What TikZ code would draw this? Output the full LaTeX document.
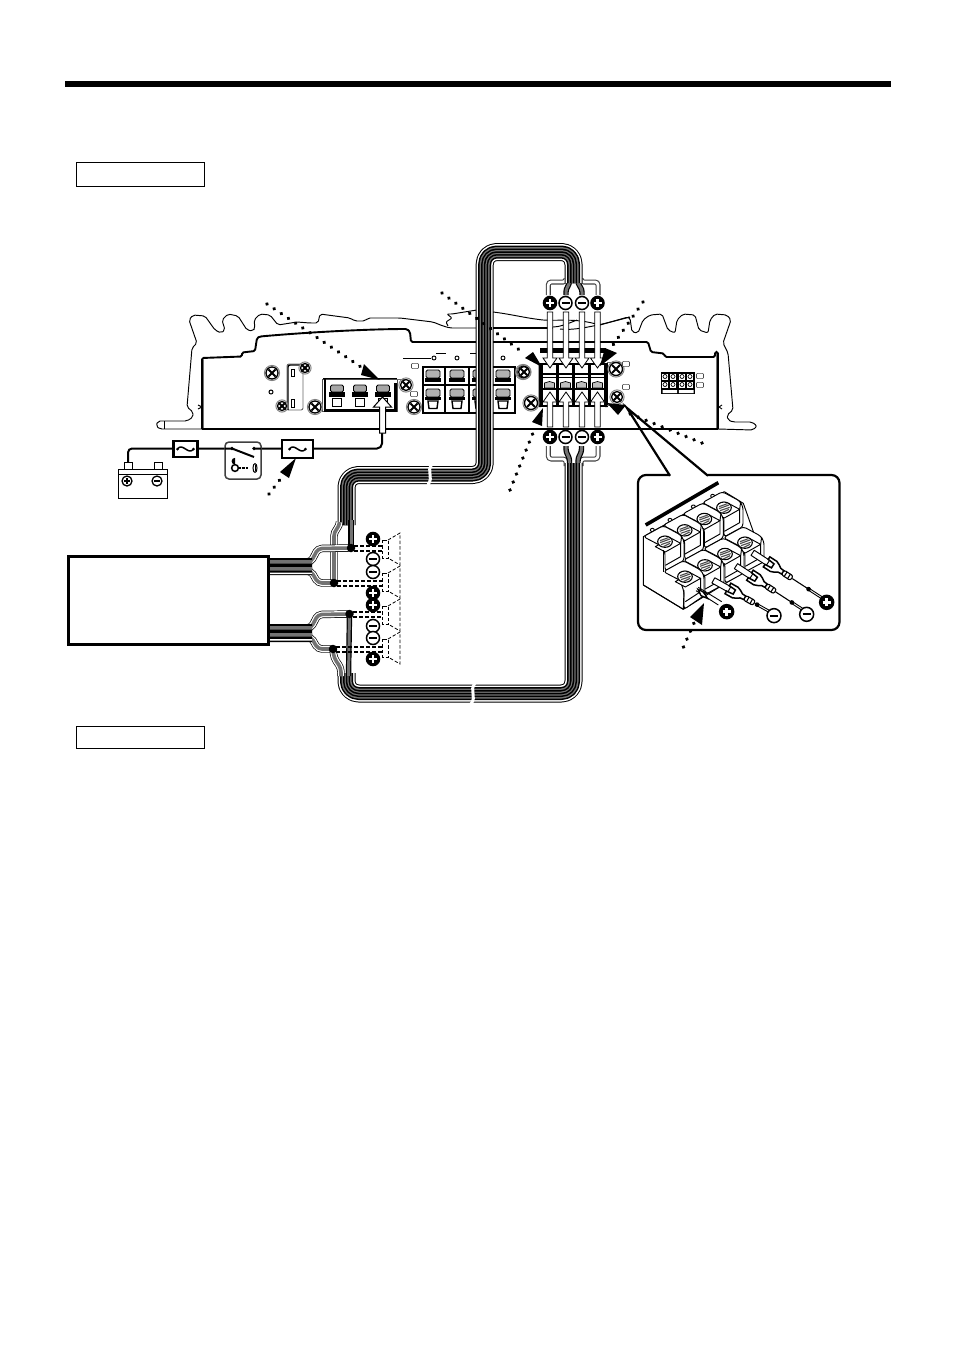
\documentclass[tikz,border=0pt]{standalone}
\usetikzlibrary{calc}
\definecolor{cgray}{gray}{0.45}
\tikzset{
  sgnbase/.style={circle,inner sep=0pt,minimum size=13pt,line width=1.5pt},
  emptybox/.style={draw,line width=1pt,fill=white,inner sep=0pt},
  thinline/.style={line width=.95pt,line join=round},
  dash1/.style={line width=1.4pt,dash pattern=on 4pt off 2pt},
  dash2/.style={line width=.8pt,dash pattern=on 3.4pt off 2pt},
  jdot/.style={circle,fill=black,inner sep=0pt,minimum size=8.5pt}
}
\newcommand\psgn[4][13]{\node[sgnbase,minimum size=#1pt,fill=black,draw=black] (#2) at (#3,#4) {};
  \draw[white,line width=2.6pt] (#2.center) ++(-4pt,0pt) -- ++(8pt,0pt) (#2.center) ++(0pt,-4pt) -- ++(0pt,8pt);}
\newcommand\msgn[4][13]{\node[sgnbase,minimum size=#1pt,fill=white,draw=black] (#2) at (#3,#4) {};
  \draw[black,line width=2.2pt] (#2.center) ++(-4pt,0pt) -- ++(8pt,0pt);}
\newcommand\scr[3]{\draw[line width=.9pt,black!50] (#1,#2) circle (#3+1.6);
  \draw[line width=1.3pt,fill=white] (#1,#2) circle (#3);
  \draw[line width=2pt] (#1,#2) ++(-#3*.6,-#3*.6) -- ++(#3*1.2,#3*1.2) (#1,#2) ++(-#3*.6,#3*.6) -- ++(#3*1.2,-#3*1.2);}
\newcommand\fuse[5]{\node[draw,line width=2.1pt,fill=white,minimum width=#4pt,minimum height=#5pt,inner sep=0pt] (#1) at (#2,#3) {};
  \draw[line width=1.5pt] (#2-8,#3) .. controls (#2-3,#3-7) and (#2+3,#3+7) .. (#2+8,#3);
  \fill (#2-8,#3) circle (1.5) (#2+8,#3) circle (1.5);}
\newcommand\warrowd[3]{\draw[line width=.8pt,fill=white,line join=miter] (#1-2.7,#2) -- (#1+2.7,#2) -- (#1+2.7,#3-10) -- (#1+7,#3-10) -- (#1,#3) -- (#1-7,#3-10) -- (#1-2.7,#3-10) -- cycle;}
\newcommand\warrowu[3]{\draw[line width=.8pt,fill=white,line join=miter] (#1-2.7,#2) -- (#1+2.7,#2) -- (#1+2.7,#3+10) -- (#1+7,#3+10) -- (#1,#3) -- (#1-7,#3+10) -- (#1-2.7,#3+10) -- cycle;}
\newcommand\pointer[9]{\draw[line width=3.9pt,line cap=round,dash pattern=on .01pt off 8.6pt] (#1,#2) -- (#3,#4);
  \fill (#5) -- (#6,#7) -- (#8,#9) -- cycle;}
\newcommand\bundle[1]{\foreach \w/\c in {18/black,16/white,13/black,10/cgray,7/black,4/cgray,1.5/black}{\draw[line width=\w pt,color=\c,rounded corners=12pt,line join=round] #1;}}
\newcommand\wirew[1]{\draw[line width=5pt,color=black!75,rounded corners=3pt] #1; \draw[line width=2.8pt,color=white,rounded corners=3pt] #1;}
\newcommand\wireg[1]{\draw[line width=5.4pt,color=black,rounded corners=3pt] #1; \draw[line width=3pt,color=cgray,rounded corners=3pt] #1;}
\newcommand\wirex[1]{\draw[line width=7.4pt,color=black,rounded corners=4pt] #1; \draw[line width=6pt,color=white,rounded corners=4pt] #1; \draw[line width=3.6pt,color=cgray,rounded corners=4pt] #1;}
\newcommand\ptermA[1]{\draw[line width=.8pt,fill=black!35,rounded corners=1.5pt] (#1-6.5,392) -- (#1-6.5,385) -- (#1+6.5,385) -- (#1+6.5,392) -- cycle;
  \fill (#1-8,392) rectangle (#1+8,396.5);
  \draw[line width=1pt,fill=white] (#1-4.2,398.5) rectangle (#1+4.2,406.5);}
\newcommand\stermA[1]{\draw[line width=.8pt,fill=black!30,rounded corners=1.5pt] (#1-7,378) -- (#1-7,370) -- (#1+7,370) -- (#1+7,378) -- cycle;
  \fill (#1-8,378) rectangle (#1+8,382);}
\newcommand\stermB[1]{\draw[line width=.8pt,fill=black!30,rounded corners=1.5pt] (#1-7,397) -- (#1-7,389) -- (#1+7,389) -- (#1+7,397) -- cycle;
  \fill (#1-8,397) rectangle (#1+8,400);
  \draw[line width=1.4pt,fill=white] (#1-5,401) -- (#1+5,401) -- (#1+4,408.5) -- (#1-4,408.5) -- cycle;}
\newcommand\rterm[1]{\fill[white] (#1-6.3,365) rectangle (#1+6.3,405);
  \fill (#1-6.3,372.5) rectangle (#1+6.3,374.5);
  \fill (#1-6.3,376.5) rectangle (#1+6.3,378);
  \draw[line width=.7pt,fill=black!25] (#1-5,388) -- (#1-5,383) -- (#1,381.5) -- (#1+5,383) -- (#1+5,388) -- cycle;
  \fill (#1-6.3,388) rectangle (#1+6.3,390);}
\newcommand\smallsq[2]{\draw[line width=.6pt,black!70,fill=white,rounded corners=.8pt] (#1-3.5,#2-2.6) rectangle (#1+3.5,#2+2.6);}
\newcommand\icell[2]{\begin{scope}[shift={(#1,#2)}]
  \draw[thinline,fill=white,rounded corners=3pt] (0,0) -- (60,-33) -- (112,-5) -- (122,12) -- (122,72) -- (65,103) -- (65,45) -- (50,26) -- cycle;
  \draw[thinline,fill=white] (36,30) -- (66,46) -- (112,20) -- (82,4) -- cycle;
  \draw[thinline] (115,-2) -- (112,20) (112,20) -- (112,60) -- (66,86);
  \draw[line width=1.1pt,fill=white] (65,15) ellipse (22 and 17);
  \draw[line width=1.1pt,black!70] (50,12) -- (75,3) (50,18) -- (80,7) (53,24) -- (82,14) (60,30) -- (80,20);
\end{scope}}
\newcommand\ispade[4]{\begin{scope}[shift={(#1,#2)},rotate=#3]
  \draw[line width=1.1pt] (62,0) -- (#4,0);
  \draw[line width=.9pt] (#4,-3) -- (#4+60,-3) (#4,3) -- (#4+60,3);
  \draw[thinline,fill=white] (-80,-9) -- (-25,-9) -- (-25,9) -- (-80,9) -- cycle;
  \draw[line width=1.5pt,fill=white] (-30,-18) -- (-5,-18) .. controls (5,-18) and (8,-9) .. (16,-7) -- (28,-6) -- (28,6) -- (16,7) .. controls (8,9) and (5,18) .. (-5,18) -- (-30,18) -- (-30,9) -- (-8,7) -- (-8,-7) -- (-30,-9) -- cycle;
  \draw[line width=1.1pt,fill=white,rounded corners=2pt] (28,-8) rectangle (60,8);
  \draw[line width=1.1pt] (38,-8) -- (38,8) (50,-8) -- (50,8);
  \fill (#4,0) circle (7);
\end{scope}}
\begin{document}
\begin{tikzpicture}[x=1pt,y=-1pt,line cap=butt]
\useasboundingbox (0,0) rectangle (954,1355);
\fill[white] (0,0) rectangle (954,1355);
% rule and boxes
\coordinate (ruleL) at (65,84); \coordinate (ruleR) at (891,84);
\draw[line width=6pt] (ruleL) -- (ruleR);
\node[emptybox,minimum width=128pt,minimum height=24pt] (box1) at (140,174) {};
\node[emptybox,minimum width=128pt,minimum height=22pt] (box2) at (140,737) {};

% amplifier outline
\draw[thinline,rounded corners=2pt] (202,429) -- (160,429) -- (156,426) -- (158,421) -- (187,421) -- (193,417) -- (193,412) -- (187,407) -- (192,348) -- (197,343) -- (189,320) -- (193,315) -- (205,316) -- (215,330) -- (221,333) -- (225,330) -- (222,320) -- (228,314) -- (238,316) -- (247,330) -- (253,331) -- (255,328) -- (254,320) -- (260,314) -- (270,315) -- (278,325) -- (297,322) -- (310,323) -- (318,323) -- (320,314) -- (350,318) -- (355,321) -- (365,321) -- (368,318) -- (400,318) -- (433,322) -- (443,326) -- (450,328) -- (477,328);
\draw[thinline] (164,421) -- (164,429);
\draw[thinline,rounded corners=1pt] (477,310) -- (452,314) -- (447,314) -- (452,318) -- (446,322) -- (448,326);
\draw[thinline] (493,312) .. controls (510,314) and (525,318) .. (543,320) .. controls (565,321) and (575,318) .. (600,325) (577,320) .. controls (565,325) and (558,327) .. (553,327) (560,329) .. controls (575,331) and (600,325) .. (630,317);
\draw[thinline,rounded corners=2pt] (600,325) -- (628,317) -- (630,318) -- (632,332) -- (638,333) -- (643,320) -- (650,315) -- (662,314) -- (668,330) -- (675,333) -- (677,320) -- (683,314) -- (695,315) -- (699,330) -- (708,333) -- (710,320) -- (715,314) -- (727,315) -- (731,320) -- (723,343) -- (728,353) -- (733,410) -- (727,415) -- (728,420) -- (733,422) -- (752,422) -- (757,426) -- (753,430) -- (718,429);
\draw[line width=1.1pt] (202,429) -- (718,429);
% panel
\draw[line width=1.9pt,rounded corners=1.5pt] (202,429) -- (202,358) -- (242,356.5) -- (242,352.5) -- (255,351) -- (257,338) -- (260,336.5) .. controls (310,332) and (370,329) .. (407,329) -- (410,332) -- (411,342) -- (648,342) -- (651,352) -- (664,353.5) -- (665,357) -- (715,357) -- (715,352) -- (718,352) -- (718,429);
\draw[line width=1pt,black!55] (203.5,360) -- (203.5,428) (716.6,354) -- (716.6,428);
\draw[thinline] (198,405) -- (202,407) -- (198,409);
\draw[thinline] (722,405) -- (719,407) -- (722,409);
\draw[line width=1.8pt] (477,328) -- (553,328);
\draw[line width=5pt] (540,350) -- (606,350);

% left bracket
\draw[line width=.9pt,black!60,fill=white,rounded corners=2pt] (287,364) -- (303,364) -- (303,410) -- (287,410) -- cycle;
\draw[line width=1.4pt,rounded corners=2pt] (288,410) -- (288,365) -- (300,365);
\draw[line width=1pt,fill=white] (291,369) -- (294,369) -- (294,376) -- (291,376) -- cycle (291,399) -- (294,399) -- (294,407) -- (291,407) -- cycle;
\scr{272}{373}{6}\scr{305}{368}{4.5}\scr{282}{406}{4.5}
\draw[line width=1pt] (271,392) circle (2);

% power terminal block
\draw[line width=.9pt,black!70,fill=white] (322,379) rectangle (397,411);
\draw[line width=.9pt,black!60] (397,379) -- (406,379);
\draw[line width=2pt] (325,379) -- (325,410);
\draw[line width=3pt] (323.5,410) -- (396.5,410);
\draw[line width=3pt] (395,383) -- (395,411);
\draw[line width=1pt] (323,378.6) -- (397,378.6);
\ptermA{337}\ptermA{360}\ptermA{383}
\scr{315}{407}{6}\scr{406}{385}{5.5}
\smallsq{415}{366}\smallsq{414}{394}

% speaker terminal block
\draw[line width=2.6pt,fill=white] (423,367) rectangle (515,413);
\draw[line width=2pt] (423,385) -- (515,385);
\stermA{433}\stermA{457}\stermA{480}\stermA{503}
\stermB{433}\stermB{457}\stermB{480}\stermB{503}
\draw[line width=1.4pt] (445,367) -- (445,413) (469,367) -- (469,413) (491,367) -- (491,413);
\scr{523}{372}{6}\scr{414}{407}{6}
\draw[thinline] (403,358) -- (431,358) (436,353) -- (446,353) (470,353) -- (477,353);
\draw[line width=.9pt] (434,358) circle (2) (457,358) circle (2) (503,358) circle (2);

% right terminal block
\fill (538.5,363) rectangle (607.5,407);
\rterm{549.5}\rterm{565.5}\rterm{581.5}\rterm{597.5}
\fill (538.5,363) rectangle (541,407) (605,363) rectangle (607.5,407);
\draw[line width=.8pt,black!60] (607,362) -- (621,362) (607,405) -- (612,405);
\scr{616}{369}{6.5}\scr{617}{397}{5.5}\scr{531}{403}{6.5}\scr{524}{372}{5.5}
\smallsq{626}{364}\smallsq{626}{387}

% connector
\fill (661,372) rectangle (695,394);
\foreach \cx in {665,673,682,690}{\foreach \cy in {376.5,384.5}{
  \draw[line width=.5pt,fill=white] (\cx-3.5,\cy-3.5) rectangle (\cx+3.5,\cy+3.5);
  \draw[line width=.7pt] (\cx,\cy) circle (2);}}
\draw[fill=white,draw=none] (662.5,390) rectangle (677.2,393) (678.8,390) rectangle (693.5,393);
\smallsq{700}{376}\smallsq{700}{385}

% battery circuit
\coordinate (swIn) at (232,448.5); \coordinate (swOut) at (254,448.5);
\draw[line width=2pt,rounded corners=4pt] (128,462) -- (128,448.5) -- (225,448.5);
\draw[line width=2pt,rounded corners=5pt] (261,448.5) -- (382,448.5) -- (382,433);
\fuse{fuse1}{185.5}{449}{24}{16}
\fuse{fuse2}{297.5}{449}{31}{18}
\node[draw=black!75,line width=1.5pt,fill=white,rounded corners=4pt,minimum width=36pt,minimum height=37pt,inner sep=0pt] (switch) at (243,460.5) {};
\draw[line width=2pt] (225,448.5) -- (swIn) -- (254,457) (swOut) -- (261,448.5);
\fill (swIn) circle (1.9) (swOut) circle (1.9);
\draw[line width=1.5pt,fill=white] (235,468) circle (3.4);
\fill (235,464.6) arc (-90:90:-3.4) -- cycle;
\draw[line width=1.8pt,dash pattern=on 3pt off .8pt] (238,468) -- (248,468);
\draw[line width=1pt] (255,468) ellipse (2 and 4.5);
\draw[line width=1pt] (255,465) -- (255,471);
% battery
\draw[line width=1pt,fill=white] (118,469) rectangle (167,498);
\draw[line width=1pt] (118,474) -- (167,474);
\draw[line width=1pt,fill=white] (124,462) rectangle (132,469);
\draw[line width=1pt,fill=white] (154,462) rectangle (162,469);
\draw[line width=1.3pt] (127,481) circle (5) (157,481) circle (5);
\draw[line width=1.6pt] (124,481) -- (130,481) (127,478) -- (127,484) (154,481) -- (160,481);
\draw[line width=1pt,fill=white,line join=miter] (379.5,433) -- (385.5,433) -- (385.5,407) -- (391.5,407) -- (382.5,397) -- (373.5,407) -- (379.5,407) -- cycle;

% white arrows to right block
\foreach \xx in {550,566,582,597.5}{\warrowd{\xx}{312}{368}\warrowu{\xx}{427}{392}}

% split wires (under the cable ends)
\coordinate (cTopR) at (573.5,283);
\coordinate (cTopL) at (346.5,525);
\coordinate (cBotR) at (573.5,463);
\coordinate (cBotL) at (346.5,673);
\wirew{(566,278) -- (566,282) -- (548.3,282) -- (548.3,295)}
\wirew{(581,278) -- (581,282) -- (598,282) -- (598,295)}
\wireg{(569.5,278) -- (569.5,284) -- (566,289) -- (566,295)}
\wireg{(578,278) -- (578,284) -- (582,289) -- (582,295)}
\wirew{(566,466) -- (566,459) -- (548.3,459) -- (548.3,446)}
\wirew{(581,466) -- (581,459) -- (598,459) -- (598,446)}
\wireg{(569.5,468) -- (569.5,458) -- (566,452) -- (566,446)}
\wireg{(578,468) -- (578,458) -- (581.5,452) -- (581.5,446)}
% cables
\bundle{(cTopR) -- (573.5,252) -- (484.7,252) -- (484.7,475) -- (346.5,475) -- (cTopL)}
\bundle{(cBotR) -- (573.5,693.5) -- (346.5,693.5) -- (cBotL)}
% breaks
\draw[white,line width=3pt] (432,464) .. controls (426,472) and (434,476) .. (428,485);
\draw[white,line width=3pt] (475,683) .. controls (469,691) and (477,696) .. (471,704);

% junction wires
\coordinate (dA) at (351,548); \coordinate (dB) at (334,583);
\coordinate (dC) at (349.5,614); \coordinate (dD) at (333,649);
\wirex{(339.5,522) -- (339.5,526) -- (334,532) -- (dB)}
\wireg{(351,520) -- (dA)}
\wirex{(269,562) -- (311,562) -- (318,548.5) -- (dA)}
\wirex{(269,571) -- (311,571) -- (318,583) -- (dB)}
\wirex{(269,628) -- (311,628) -- (318,614.5) -- (dC)}
\wirex{(269,637) -- (311,637) -- (318,649) -- (dD)}
\wireg{(348.5,676) -- (dC)}
\wirex{(341,676) -- (341,668) -- (334,658) -- (dD)}
\fill (269,558) rectangle (312,575) (269,624) rectangle (312,642);
\fill[cgray] (269,560) rectangle (312,563.5) (269,567) rectangle (312,570.5) (269,626) rectangle (312,629.5) (269,633) rectangle (312,636.5);
\fill[white] (269,572.5) rectangle (312,574) (269,639) rectangle (312,640.5);
\node[jdot] (jA) at (dA) {}; \node[jdot] (jB) at (dB) {};
\node[jdot] (jC) at (dC) {}; \node[jdot] (jD) at (dD) {};

% head unit
\node[draw,line width=3pt,fill=white,minimum width=200pt,minimum height=88pt,inner sep=0pt] (head) at (168,600) {};

% dashed leads and speakers
\draw[dash1] (354,546) -- (382,546) (354,551) -- (382,551) (337,581) -- (382,581) (337,586) -- (382,586)
  (353,612) -- (382,612) (353,617) -- (382,617) (336,647) -- (382,647) (336,652) -- (382,652);
\foreach \yc in {549,582,615,648}{
  \draw[dash2] (382,\yc-9) rectangle (388,\yc+9);
  \draw[dash2] (388,\yc-9) -- (400,\yc-16) -- (400,\yc+16) -- (388,\yc+9);}

% speaker signs
\psgn{s1}{373}{539}\msgn{s2}{373}{559}\msgn{s3}{373}{572}\psgn{s4}{373}{593}
\psgn{s5}{373}{605}\msgn{s6}{373}{626}\msgn{s7}{373}{638}\psgn{s8}{373}{659}
% block signs
\psgn{t1}{550}{303}\msgn{t2}{565.5}{303}\msgn{t3}{582}{303}\psgn{t4}{597.5}{303}
\psgn{b1}{550}{437}\msgn{b2}{565.5}{437}\msgn{b3}{582}{437}\psgn{b4}{597.5}{437}

% callout wedge and inset
\coordinate (apex) at (627,408);
\draw[line width=2.2pt,fill=white,rounded corners=8pt] (670,475) -- (638,475) -- (638,630) -- (839.5,630) -- (839.5,475) -- (708,475);
\draw[line width=2.2pt] (670,475.8) -- (apex) -- (708,475.8);

\begin{scope}[shift={(630,470)},x=.3333pt,y=-.3333pt]
\draw[line width=3.6pt] (47,165) -- (265,38);
% pins
\foreach \px/\py in {67/180,120/150,190/110,248/78}{\draw[thinline,fill=white] (\px,\py) ellipse (6 and 5);}
% body base
\draw[thinline,fill=white] (40,200) -- (40,345) -- (160,418) -- (400,270) -- (340,100) -- (283,65) -- cycle;
% upper tier
\icell{217}{98}\icell{158}{132}\icell{99}{166}\icell{40}{200}
% lower tier
\icell{280}{203}\icell{220}{237}\icell{160}{271}
\begin{scope}[shift={(100,305)}]
  \draw[thinline,fill=white,rounded corners=3pt] (0,0) -- (60,-33) -- (112,-5) -- (122,12) -- (122,72) -- (62,113) -- (62,60) -- (50,26) -- cycle;
  \draw[thinline,fill=white] (36,30) -- (66,46) -- (112,20) -- (82,4) -- cycle;
  \draw[thinline] (112,20) -- (112,60) -- (66,90);
  \draw[line width=1.1pt,fill=white] (65,15) ellipse (22 and 17);
  \draw[line width=1.1pt,black!70] (50,12) -- (75,3) (50,18) -- (80,7) (53,24) -- (82,14) (60,30) -- (80,20);
\end{scope}
\draw[thinline] (40,345) -- (160,418) -- (162,360);
\draw[thinline] (100,305) -- (100,240);
% wires
\draw[line width=.9pt] (205,352) -- (275,395) (198,362) -- (265,405);
\draw[line width=1.4pt,fill=white] (204,358) -- (222,367) -- (232,385) -- (213,377) -- cycle;
\fill (216,364) -- (222,367) -- (228,378) -- (222,373) -- cycle;
\ispade{320}{370}{-29}{70}
\ispade{385}{332}{-33}{120}
\ispade{435}{292}{-33}{120}
\psgn[14]{w1}{290}{425}\msgn[14]{w2}{432}{437}\msgn[14]{w3}{530}{433}\psgn[14]{w4}{590}{397}
\end{scope}

% pointers
\pointer{267}{304}{361}{367}{380,380}{364}{364}{361}{375}
\pointer{442}{293}{525}{354}{542,367}{533}{352}{525}{358}
\pointer{643}{302}{613}{345}{600,366}{605}{348}{617}{353}
\pointer{702}{443}{628}{413}{607,403}{626}{405}{618}{415}
\pointer{510}{490}{535}{428}{543,408}{532}{422}{542}{426}
\pointer{269}{494}{282}{477}{296,458}{280}{472}{289}{478}
\pointer{683.5}{647}{694}{623}{704,603}{690}{617}{702}{625}
\end{tikzpicture}
\end{document}
